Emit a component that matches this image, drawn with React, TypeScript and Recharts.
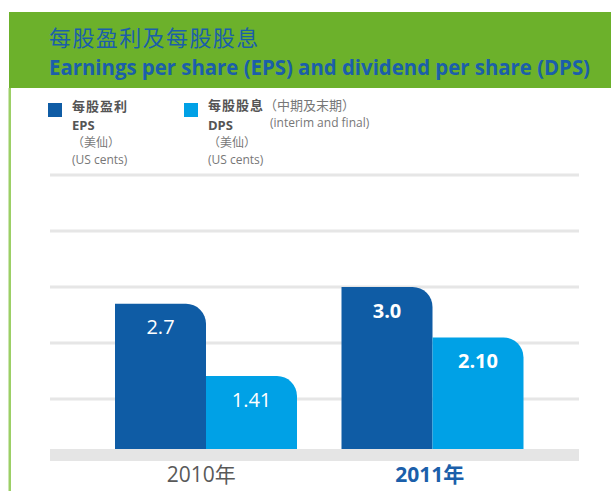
import { BarChart, Bar, XAxis, YAxis, CartesianGrid, LabelList } from 'recharts';

const years = ['2010年', '2011年'];
const eps = [2.7, 3.0];
const dps = [1.41, 2.1];
const epsLabels = ['2.7', '3.0'];
const dpsLabels = ['1.41', '2.10'];
const gridTicks = [1, 2, 3, 4, 5];

const data = years.map((year, i) => ({ year, eps: eps[i], dps: dps[i], epsLabel: epsLabels[i], dpsLabel: dpsLabels[i] }));

const FONT = '"Open Sans", "Noto Sans CJK TC", sans-serif';
const EPS_COLOR = '#0F5CA5';
const DPS_COLOR = '#00A1E6';
const GREEN = '#6CB12B';
const TITLE_BLUE = '#1B5FAA';

function makeLabel(key: 'epsLabel' | 'dpsLabel') {
  return (props: any) => {
    const { x, y, width, index } = props;
    const text = data[index][key];
    return (
      <text
        x={x + width / 2}
        y={y + 23}
        textAnchor="middle"
        dominantBaseline="central"
        fill="#FFFFFF"
        fontSize={20}
        fontWeight={index === 1 ? 700 : 400}
        fontFamily={FONT}
      >
        {text}
      </text>
    );
  };
}

function YearTick(props: any) {
  const { x, y, payload, index } = props;
  const latest = index === years.length - 1;
  return (
    <text
      x={x - (latest ? 3 : 5)}
      y={y + 3}
      textAnchor="middle"
      dominantBaseline="central"
      fontSize={21}
      fontFamily={FONT}
      fontWeight={latest ? 700 : 400}
      fill={latest ? TITLE_BLUE : '#595959'}
    >
      {payload.value}
    </text>
  );
}

function Legend() {
  const bold = { fontWeight: 700, color: '#555555', fontSize: 13 };
  const light = { color: '#777777', fontSize: 12 };
  const line = { height: 17, lineHeight: '17px', whiteSpace: 'nowrap' as const };
  return (
    <>
      <div style={{ position: 'absolute', left: 48, top: 103, width: 14, height: 14, background: EPS_COLOR }} />
      <div style={{ position: 'absolute', left: 72, top: 98, fontFamily: FONT }}>
        <div style={{ ...line, ...bold, letterSpacing: 1 }}>每股盈利</div>
        <div style={{ ...line, ...bold, marginTop: 2 }}>EPS</div>
        <div style={{ ...line, ...light }}>（美仙）</div>
        <div style={{ ...line, ...light }}>(US cents)</div>
      </div>
      <div style={{ position: 'absolute', left: 184, top: 103, width: 14, height: 14, background: DPS_COLOR }} />
      <div style={{ position: 'absolute', left: 208, top: 98, fontFamily: FONT }}>
        <div style={{ ...line, marginTop: -2 }}>
          <span style={{ ...bold, letterSpacing: 1 }}>每股股息</span>
          <span style={{ ...light, fontSize: 13 }}>（中期及末期）</span>
        </div>
        <div style={{ ...line, ...bold, marginTop: 4, position: 'relative' }}>
          DPS
          <span style={{ ...light, fontWeight: 400, position: 'absolute', left: 62, top: -3 }}>(interim and final)</span>
        </div>
        <div style={{ ...line, ...light }}>（美仙）</div>
        <div style={{ ...line, ...light }}>(US cents)</div>
      </div>
    </>
  );
}

export default function App() {
  return (
    <div style={{ position: 'absolute', left: 0, top: 0, width: 611, height: 491, background: '#FFFFFF', overflow: 'hidden' }}>
      <svg width={611} height={491} style={{ position: 'absolute', left: 0, top: 0 }}>
        <rect x={9} y={12} width={602} height={76} fill={GREEN} />
        <rect x={8.5} y={88} width={2.5} height={403} fill="#9CCF66" />
        <text x={49} y={37} dominantBaseline="central" fontSize={22} letterSpacing={1.4} fill={TITLE_BLUE} fontFamily={FONT}>
          每股盈利及每股股息
        </text>
        <text
          x={49}
          y={67}
          dominantBaseline="central"
          fontSize={21}
          fontWeight={700}
          fill={TITLE_BLUE}
          fontFamily={FONT}
          textLength={541}
          lengthAdjust="spacingAndGlyphs"
        >
          Earnings per share (EPS) and dividend per share (DPS)
        </text>
      </svg>
      <Legend />
      <div style={{ position: 'absolute', left: 0, top: 0 }}>
        <BarChart
          width={611}
          height={491}
          data={data}
          margin={{ top: 175, left: 50, right: 32, bottom: 0 }}
          barSize={91}
          barGap={0}
        >
          <CartesianGrid vertical={false} stroke="#E6E6E6" strokeWidth={3} />
          <YAxis hide domain={[0, 5]} ticks={gridTicks} />
          <Bar dataKey="eps" fill={EPS_COLOR} radius={[0, 20, 0, 0]} isAnimationActive={false}>
            <LabelList dataKey="eps" content={makeLabel('epsLabel')} />
          </Bar>
          <Bar dataKey="dps" fill={DPS_COLOR} radius={[0, 20, 0, 0]} isAnimationActive={false}>
            <LabelList dataKey="dps" content={makeLabel('dpsLabel')} />
          </Bar>
          <XAxis
            dataKey="year"
            axisLine={{ stroke: '#E5E5E5', strokeWidth: 12 }}
            tickLine={false}
            height={36}
            padding={{ left: 43, right: 33 }}
            tick={<YearTick />}
            tickMargin={10}
            interval={0}
          />
        </BarChart>
      </div>
    </div>
  );
}
